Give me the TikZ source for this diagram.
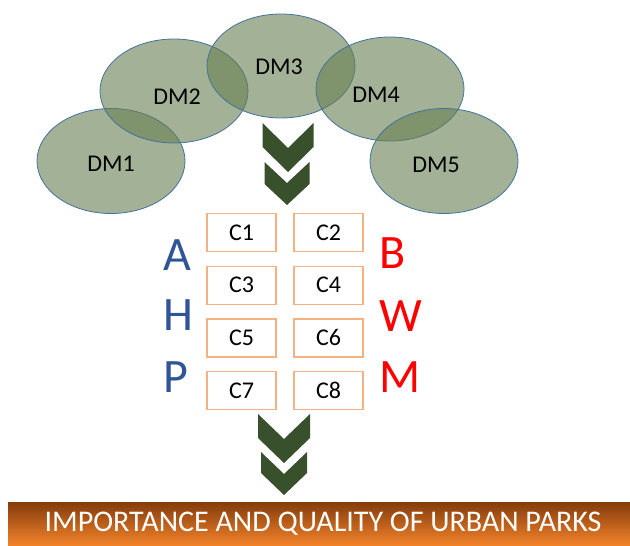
\documentclass[tikz,border=0pt]{standalone}
\usepackage{fontspec}
\setmainfont{Carlito}
\usepackage{tikz}
\usetikzlibrary{positioning}

\definecolor{dmgreen}{RGB}{102,127,80}
\definecolor{dmline}{RGB}{65,113,156}
\definecolor{chevgreen}{RGB}{56,80,44}
\definecolor{boxorange}{RGB}{244,177,131}
\definecolor{ahpblue}{RGB}{47,85,151}
\definecolor{bandtop}{RGB}{132,60,12}
\definecolor{bandmid}{RGB}{190,92,24}
\definecolor{bandbot}{RGB}{242,130,42}

\tikzset{
  dm/.style={fill=dmgreen, fill opacity=0.6, draw=dmline, line width=0.6pt},
  dmlabel/.style={text=black, font=\fontsize{18}{20}\selectfont},
  crit/.style={draw=boxorange, line width=1pt, minimum width=51.75pt,
    minimum height=28.5pt, font=\fontsize{18}{20}\selectfont},
  ahp/.style={text=ahpblue, anchor=base west, inner sep=0pt,
    font=\fontsize{36}{40}\selectfont},
  bwm/.style={ahp, text=red},
  chev/.style={fill=chevgreen}
}

% cx, top, half width, height, thickness
\newcommand{\chevron}[5]{%
  \fill[chev] (#1-#3,#2) -- (#1,#2+#4-#5) -- (#1+#3,#2) -- (#1+#3,#2+#5)
    -- (#1,#2+#4) -- (#1-#3,#2+#5) -- cycle;}

\begin{document}
\begin{tikzpicture}[x=0.75pt, y=-0.75pt]
  \useasboundingbox (0,0) rectangle (630,545);

  % decision makers
  \draw[dm] (111,161) ellipse [x radius=74, y radius=52.5];
  \draw[dm] (174,91) ellipse [x radius=74, y radius=52];
  \draw[dm] (281,66) ellipse [x radius=74, y radius=52];
  \draw[dm] (390,89) ellipse [x radius=74, y radius=52];
  \draw[dm] (444,161) ellipse [x radius=74, y radius=52.5];
  \node[dmlabel] (dm1) at (111,164) {DM1};
  \node[dmlabel] (dm2) at (177,97) {DM2};
  \node[dmlabel] (dm3) at (279,67) {DM3};
  \node[dmlabel] (dm4) at (376,95) {DM4};
  \node[dmlabel] (dm5) at (436,165) {DM5};

  \chevron{288}{123}{25.5}{49}{24}
  \chevron{287}{162}{22.5}{43}{22}

  % criteria
  \node[crit] (c1) at (241.5,232.5) {C1};
  \node[crit, right=12.5pt of c1] (c2) {C2};
  \node[crit, below=10pt of c1] (c3) {C3};
  \node[crit, right=12.5pt of c3] (c4) {C4};
  \node[crit, below=10pt of c3] (c5) {C5};
  \node[crit, right=12.5pt of c5] (c6) {C6};
  \node[crit, below=10pt of c5] (c7) {C7};
  \node[crit, right=12.5pt of c7] (c8) {C8};

  \node[ahp] (a) at (163,270) {A};
  \node[ahp] (h) at (163,330) {H};
  \node[ahp] (p) at (163,392) {P};
  \node[bwm] (b) at (379,268) {B};
  \node[bwm] (w) at (379,331) {W};
  \node[bwm] (m) at (379,392) {M};

  \chevron{284}{414}{26}{49}{24}
  \chevron{284}{452}{23}{43}{21}

  % result
  \shade[top color=bandtop, middle color=bandmid, bottom color=bandbot]
    (8,502) rectangle (630,545);
  \node[text=white, font=\fontsize{22.5}{26}\selectfont] (title) at (323,524)
    {IMPORTANCE AND QUALITY OF URBAN PARKS};
\end{tikzpicture}
\end{document}
